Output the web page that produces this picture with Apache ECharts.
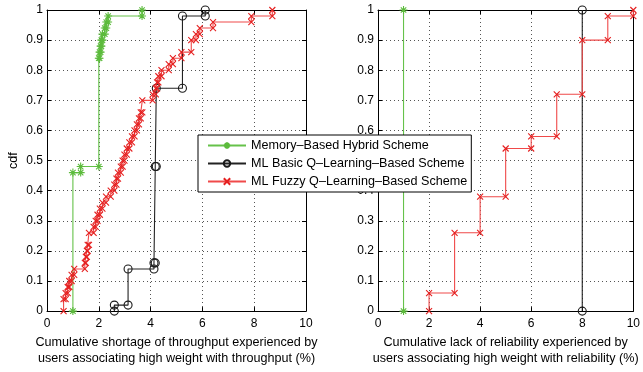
<!DOCTYPE html>
<html>
<head>
<meta charset="utf-8">
<script src="https://cdn.jsdelivr.net/npm/echarts@6/dist/echarts.min.js"></script>
<style>
html,body{margin:0;padding:0;background:#fff;}
#chart{width:643px;height:372px;}
</style>
</head>
<body>
<div id="chart"></div>
<script>
// ---------- data ----------
var seriesNames = ['Memory\u2013Based Hybrid Scheme', 'ML Basic Q\u2013Learning\u2013Based Scheme', 'ML Fuzzy Q\u2013Learning\u2013Based Scheme'];
var xTicks = [0, 2, 4, 6, 8, 10];
var yTicks = [0, 0.1, 0.2, 0.3, 0.4, 0.5, 0.6, 0.7, 0.8, 0.9, 1];

// Left panel: throughput shortage (%) — step positions and cdf level after step
var thrMemX = [1.0, 1.3, 2.0, 2.03, 2.07, 2.10, 2.14, 2.23, 2.29, 2.36, 3.67];
var thrMemY = [0.46, 0.48, 0.84, 0.86, 0.88, 0.90, 0.92, 0.94, 0.96, 0.98, 1.0];
var thrBasicX = [2.60, 3.13, 4.13, 4.18, 4.22, 5.23, 6.11];
var thrBasicY = [0.02, 0.14, 0.16, 0.48, 0.74, 0.98, 1.0];
var thrFuzzyX = [0.64, 0.72, 0.80, 0.86, 0.95, 1.05, 1.46, 1.50, 1.54, 1.57, 1.62, 1.80, 1.88, 1.95, 2.04, 2.14, 2.28, 2.46, 2.60, 2.68, 2.74, 2.85, 2.92, 2.99, 3.08, 3.18, 3.28, 3.38, 3.47, 3.55, 3.62, 3.68, 4.08, 4.20, 4.25, 4.30, 4.42, 4.70, 4.86, 5.19, 5.57, 5.75, 5.90, 6.41, 7.89, 8.70];
var thrFuzzyY = [0.04, 0.06, 0.08, 0.10, 0.12, 0.14, 0.16, 0.18, 0.20, 0.22, 0.26, 0.28, 0.30, 0.32, 0.34, 0.36, 0.38, 0.40, 0.42, 0.44, 0.46, 0.48, 0.50, 0.52, 0.54, 0.56, 0.58, 0.60, 0.62, 0.64, 0.66, 0.70, 0.72, 0.74, 0.76, 0.78, 0.80, 0.82, 0.84, 0.86, 0.90, 0.92, 0.94, 0.96, 0.98, 1.0];

// Right panel: reliability lack (%)
var relMemX = [1];
var relMemY = [1.0];
var relBasicX = [8];
var relBasicY = [1.0];
var relFuzzyX = [2, 3, 4, 5, 6, 7, 8, 9, 10];
var relFuzzyY = [0.06, 0.26, 0.38, 0.54, 0.58, 0.72, 0.90, 0.98, 1.0];

var xNameLeft = 'Cumulative shortage of throughput experienced by\nusers associating high weight with throughput (%)';
var xNameRight = 'Cumulative lack of reliability experienced by\nusers associating high weight with reliability (%)';
var yName = 'cdf';

// ---------- helpers ----------
function corners(xs, ys) {
  var pts = [];
  var prev = 0;
  for (var i = 0; i < xs.length; i++) {
    pts.push([xs[i], prev]);
    pts.push([xs[i], ys[i]]);
    prev = ys[i];
  }
  return pts;
}

var FONT = 'Liberation Sans, Arial, Helvetica, sans-serif';
var STAR = 'path://M5,0L5,10M0,5L10,5M1.6,1.6L8.4,8.4M8.4,1.6L1.6,8.4';
var CROSS = 'path://M0,0L10,10M10,0L0,10';

var styles = [
  {line: '#66c24a', mark: '#5cbb3c', symbol: STAR, size: 8},
  {line: '#222222', mark: '#1a1a1a', symbol: 'circle', size: 8},
  {line: '#f04a4a', mark: '#e52020', symbol: CROSS, size: 6}
];

function mkSeries(idx, gi, xs, ys) {
  var s = styles[idx];
  return {
    name: seriesNames[idx],
    type: 'line',
    xAxisIndex: gi * 2,
    yAxisIndex: gi * 2,
    data: corners(xs, ys),
    symbol: s.symbol,
    symbolSize: s.size,
    showAllSymbol: true,
    clip: false,
    animation: false,
    lineStyle: {color: s.line, width: 1.1},
    itemStyle: {color: 'rgba(0,0,0,0)', borderColor: s.mark, borderWidth: 1.1},
    emphasis: {disabled: true}
  };
}

var grids = [
  {left: 47, top: 10, width: 259, height: 307},
  {left: 378, top: 10, width: 258, height: 307}
];

var xAxes = [], yAxes = [];
[0, 1].forEach(function (gi) {
  xAxes.push({
    type: 'value', gridIndex: gi, min: 0, max: 10, interval: 2, position: 'bottom',
    axisLine: {show: true, onZero: false, lineStyle: {color: '#000', width: 1}},
    axisTick: {show: true, inside: true, length: 4, lineStyle: {color: '#000'}},
    axisLabel: {color: '#000', fontFamily: FONT, fontSize: 12, margin: 7},
    splitLine: {show: true, lineStyle: {color: '#555', type: [1, 3], width: 1}},
    name: gi === 0 ? xNameLeft : xNameRight,
    nameLocation: 'middle', nameGap: 20,
    nameTextStyle: {color: '#000', fontFamily: FONT, fontSize: 12.6, lineHeight: 16, verticalAlign: 'top'}
  });
  xAxes.push({
    type: 'value', gridIndex: gi, min: 0, max: 10, interval: 2, position: 'top',
    axisLine: {show: true, onZero: false, lineStyle: {color: '#000', width: 1}},
    axisTick: {show: true, inside: true, length: 4, lineStyle: {color: '#000'}},
    axisLabel: {show: false}, splitLine: {show: false}
  });
  yAxes.push({
    type: 'value', gridIndex: gi, min: 0, max: 1, interval: 0.1, position: 'left',
    axisLine: {show: true, onZero: false, lineStyle: {color: '#000', width: 1}},
    axisTick: {show: true, inside: true, length: 4, lineStyle: {color: '#000'}},
    axisLabel: {color: '#000', fontFamily: FONT, fontSize: 12, margin: 4},
    splitLine: {show: true, lineStyle: {color: '#555', type: [1, 3], width: 1}},
    name: gi === 0 ? yName : '',
    nameLocation: 'middle', nameGap: 27,
    nameTextStyle: {color: '#000', fontFamily: FONT, fontSize: 12.6}
  });
  yAxes.push({
    type: 'value', gridIndex: gi, min: 0, max: 1, interval: 0.1, position: 'right',
    axisLine: {show: true, onZero: false, lineStyle: {color: '#000', width: 1}},
    axisTick: {show: true, inside: true, length: 4, lineStyle: {color: '#000'}},
    axisLabel: {show: false}, splitLine: {show: false}
  });
});

var chart = echarts.init(document.getElementById('chart'), null, {renderer: 'canvas'});
chart.setOption({
  animation: false,
  backgroundColor: '#fff',
  grid: grids,
  xAxis: xAxes,
  yAxis: yAxes,
  legend: {
    orient: 'vertical', left: 198, top: 135, z: 20,
    backgroundColor: '#fff', borderColor: '#000', borderWidth: 1,
    padding: [4, 4, 4, 9],
    itemWidth: 38, itemHeight: 8, itemGap: 5,
    textStyle: {color: '#000', fontFamily: FONT, fontSize: 12.6},
    data: seriesNames,
    selectedMode: false
  },
  series: [
    mkSeries(0, 0, thrMemX, thrMemY),
    mkSeries(1, 0, thrBasicX, thrBasicY),
    mkSeries(2, 0, thrFuzzyX, thrFuzzyY),
    mkSeries(0, 1, relMemX, relMemY),
    mkSeries(1, 1, relBasicX, relBasicY),
    mkSeries(2, 1, relFuzzyX, relFuzzyY)
  ]
});
</script>
</body>
</html>
